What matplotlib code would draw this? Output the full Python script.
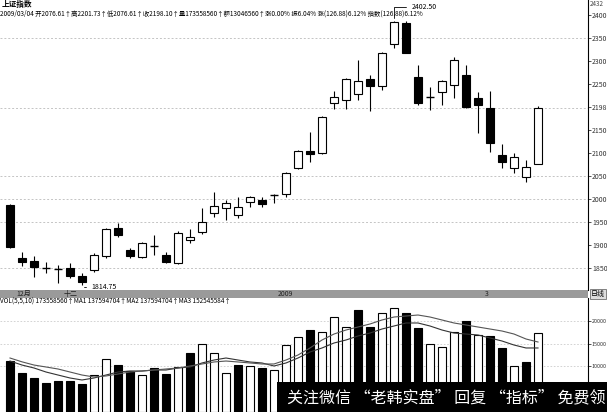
import numpy as np
import matplotlib.pyplot as plt
from matplotlib.patches import Rectangle

plt.rcParams['font.family'] = ['Noto Sans CJK SC', 'DejaVu Sans']

# daily candles
opens = [1988, 1872.7, 1866.2, 1852, 1849, 1851, 1833.7, 1846.7, 1877.1, 1937.8,
         1890.1, 1874.9, 1897, 1879.3, 1862, 1912.4, 1929.1, 1970.3, 1981.2, 1966.0,
         1994.2, 1998.6, 2009, 2011.6, 2068.0, 2104.8, 2100.5, 2208.9, 2215.5, 2228.5,
         2261.0, 2245.8, 2336.9, 2382.4, 2265.3, 2221.9, 2232.8, 2248.0, 2269.7, 2219.8,
         2198.1, 2096.2, 2068.0, 2048.4, 2076.61]
closes = [1896.6, 1864.1, 1853.2, 1850, 1848, 1833.7, 1820.7, 1879.3, 1935.6, 1922.6,
          1877.1, 1905.3, 1899, 1864.1, 1927, 1918.9, 1950.8, 1985.5, 1992.2, 1983.4,
          2005.0, 1989.9, 2010, 2057.1, 2104.8, 2098.3, 2178.6, 2221.9, 2261.0, 2256.7,
          2245.8, 2317.4, 2384.6, 2317.4, 2208.9, 2220, 2256.7, 2302.2, 2200.3, 2204.6,
          2122.2, 2081.0, 2091.8, 2070.1, 2198.10]
highs = [1990, 1885.8, 1877.1, 1864.1, 1857.6, 1861.9, 1840.2, 1883.6, 1937.8, 1948.7,
         1894.5, 1907.5, 1922.6, 1885.8, 1931.3, 1935.6, 1981.2, 2015.9, 1998.6, 2005.0,
         2007, 2005.0, 2012, 2059, 2107, 2146.0, 2180.7, 2235.0, 2263, 2302.2,
         2269.7, 2319, 2386.8, 2386.8, 2291.4, 2243.6, 2259, 2308.7, 2291.4, 2232.8,
         2235.0, 2120.0, 2100.5, 2085.3, 2201.73]
lows = [1895, 1855.4, 1831.5, 1840.2, 1818.5, 1829.4, 1814.75, 1842.4, 1872.7, 1918.3,
        1872.7, 1872.7, 1879.3, 1861.9, 1859.7, 1905.3, 1924.8, 1961.7, 1955.2, 1959.5,
        1983.4, 1983.4, 1992.2, 2005.0, 2066, 2081.0, 2098, 2196.0, 2196.0, 2215.5,
        2191.6, 2237.1, 2328.2, 2317.4, 2204.6, 2193.8, 2204.6, 2219.8, 2198, 2143.9,
        2102.7, 2068.0, 2057.1, 2037.6, 2076.61]

# volume bars (True = hollow bar) and the two average lines
volumes = [11180, 8550, 7460, 6360, 6800, 6800, 6140, 8110, 11620, 10300,
           8990, 8110, 9650, 8330, 9870, 12940, 14910, 12940, 8550, 10300,
           10090, 9650, 9210, 14690, 16450, 17980, 17540, 20830, 18640, 22370,
           18640, 21710, 22810, 21710, 18420, 14910, 14250, 17540, 19960, 16890,
           16670, 14040, 10090, 10960, 17320]
vol_hollow = [False, False, False, False, False, False, False, True, True, False,
              False, True, False, False, True, False, True, True, True, False,
              True, False, True, True, True, False, True, True, True, False,
              False, True, True, False, False, True, True, True, False, True,
              False, False, True, False, True]
vol_ma1 = [11180, 10300, 9650, 8770, 8110, 7460, 7020, 7460, 8110, 8770,
           8990, 8990, 9210, 9210, 9650, 9870, 10750, 11400, 11840, 11400,
           10970, 10750, 10090, 10750, 11840, 13160, 14040, 15130, 15790, 16670,
           17320, 18200, 18860, 19520, 19520, 18860, 17980, 17320, 17100, 16890,
           16230, 15570, 14690, 14040, 14040]
vol_ma2 = [11840, 11000, 10300, 9870, 9430, 8770, 8110, 7680, 7900, 8330,
           8770, 8990, 9210, 9430, 9650, 10090, 10530, 10970, 11180, 10970,
           10750, 10530, 10530, 11400, 12500, 14040, 15790, 17100, 17980, 18640,
           19300, 20180, 20830, 21050, 21270, 20830, 20180, 19520, 19080, 18640,
           18200, 17760, 17100, 16010, 15350]

price_ticks = [1850, 1900, 1950, 2000, 2050, 2100, 2150, 2200, 2250, 2300, 2350, 2400]
price_labels = ['1850', '1900', '1950', '2000', '2050', '2100', '2150', '2198', '2250', '2300', '2350', '2400']
price_grid = [1850, 1950, 2000, 2050, 2198, 2350]
vol_ticks = [10000, 15000, 20000]

header1 = '上证指数'
header2 = ('2009/03/04 开2076.61↑高2201.73↑低2076.61↑收2198.10↑量173558560↑额13046560↑'
           '涨0.00% 振6.04% 涨(126.88)6.12% 指数(126.88)6.12%')
vol_header = 'VOL(5,5,10) 173558560↑MA1 137594704↑MA2 137594704↑MA3 152545584↑'
band_labels = [(0.5, '12月'), (4.5, '十二'), (22.3, '2009'), (39.6, '3')]
banner = '关注微信 “老韩实盘” 回复 “指标” 免费领'

W, H = 607, 412
fig = plt.figure(figsize=(W / 100, H / 100), dpi=100)
fig.patch.set_facecolor('white')

x = np.arange(len(opens))
xl = (-10 / 12, 578 / 12)

# ---- price panel
ax = fig.add_axes([0, 1 - 290 / H, 588 / W, 290 / H])
ax.set_xlim(*xl)
ax.set_ylim(1803.3, 2432.4)
for g in price_grid:
    ax.axhline(g, color='#c4c4c4', lw=0.7, ls=(0, (2, 2)), zorder=0)

for i in x:
    o, c, h, l = opens[i], closes[i], highs[i], lows[i]
    ax.vlines(i, l, h, color='black', lw=0.8, zorder=1)
    lo, hi = min(o, c), max(o, c)
    if hi - lo < 3:
        ax.hlines((o + c) / 2, i - 0.33, i + 0.33, color='black', lw=1.0, zorder=2)
    else:
        face = 'white' if c > o else 'black'
        ax.add_patch(Rectangle((i - 0.3, lo), 0.6, hi - lo, facecolor=face,
                               edgecolor='black', lw=0.8, zorder=2))

ax.yaxis.tick_right()
ax.set_yticks(price_ticks)
ax.set_yticklabels(price_labels)
ax.tick_params(axis='y', labelsize=5, length=2, width=0.6, pad=1, colors='#333333')
ax.set_xticks([])
for s in ['left', 'top', 'bottom']:
    ax.spines[s].set_visible(False)
ax.spines['right'].set_linewidth(0.8)

# max / min markers
imax = int(np.argmax(highs))
imin = int(np.argmin(lows))
ax.annotate('2402.50', xy=(imax, highs[imax]), xytext=(imax + 1.5, 2418),
            fontsize=5, va='center', ha='left',
            arrowprops=dict(arrowstyle='-', lw=0.6, color='black',
                            connectionstyle='angle,angleA=0,angleB=90'))
ax.annotate('1814.75', xy=(imin, lows[imin]), xytext=(imin + 0.8, 1804 + 6),
            fontsize=5, va='center', ha='left',
            arrowprops=dict(arrowstyle='-', lw=0.6, color='black',
                            connectionstyle='angle,angleA=0,angleB=90'))

fig.text(2 / W, 1 - 4 / H, header1, fontsize=5.5, fontweight='bold', va='center', ha='left')
fig.text(0, 1 - 14 / H, header2, fontsize=4.6, va='center', ha='left')
fig.text(590 / W, 1 - 4 / H, '2432', fontsize=4.5, va='center', ha='left', color='#444444')

# ---- date band
bx = fig.add_axes([0, 1 - 298 / H, 1, 8 / H])
bx.set_xlim(xl[0], xl[0] + (xl[1] - xl[0]) * W / 588)
bx.set_ylim(0, 1)
bx.axis('off')
bx.add_patch(Rectangle((xl[0], 0), xl[1] - xl[0], 1, color='#9a9a9a', lw=0))
for pos, lab in band_labels:
    bx.text(pos, 0.5, lab, fontsize=5, va='center', ha='left', color='#222222')
bx.text(xl[1] + 0.25, 0.5, '日线', fontsize=5, va='center', ha='left',
        bbox=dict(facecolor='#dddddd', edgecolor='#555555', lw=0.5, pad=0.6))

# ---- volume panel
vx = fig.add_axes([0, 0, 588 / W, 114 / H])
vx.set_xlim(*xl)
vx.set_ylim(0, 25000)
for g in vol_ticks:
    vx.axhline(g, color='#cccccc', lw=0.6, ls=(0, (2, 2)), zorder=0)
faces = ['white' if hv else 'black' for hv in vol_hollow]
vx.bar(x, volumes, width=0.6, color=faces, edgecolor='black', lw=0.8, zorder=2)
vx.plot(x, vol_ma1, color='#333333', lw=0.8, zorder=3)
vx.plot(x, vol_ma2, color='#555555', lw=0.8, zorder=3)
vx.yaxis.tick_right()
vx.set_yticks(vol_ticks)
vx.set_yticklabels([str(v) for v in vol_ticks])
vx.tick_params(axis='y', labelsize=3.9, length=2, width=0.6, pad=0.5, colors='#333333')
vx.set_xticks([])
for s in ['left', 'top', 'bottom']:
    vx.spines[s].set_visible(False)
vx.spines['right'].set_linewidth(0.8)
fig.text(0, 1 - 302 / H, vol_header, fontsize=4.6, va='center', ha='left')

# ---- watermark banner
fig.patches.append(Rectangle((277 / W, 0), 1, 30 / H, transform=fig.transFigure,
                             facecolor='black', edgecolor='none', zorder=10))
fig.text(287 / W, 14 / H, banner, fontsize=11.5, color='white', va='center', ha='left', zorder=11)

fig.savefig('out.png', dpi=100)
